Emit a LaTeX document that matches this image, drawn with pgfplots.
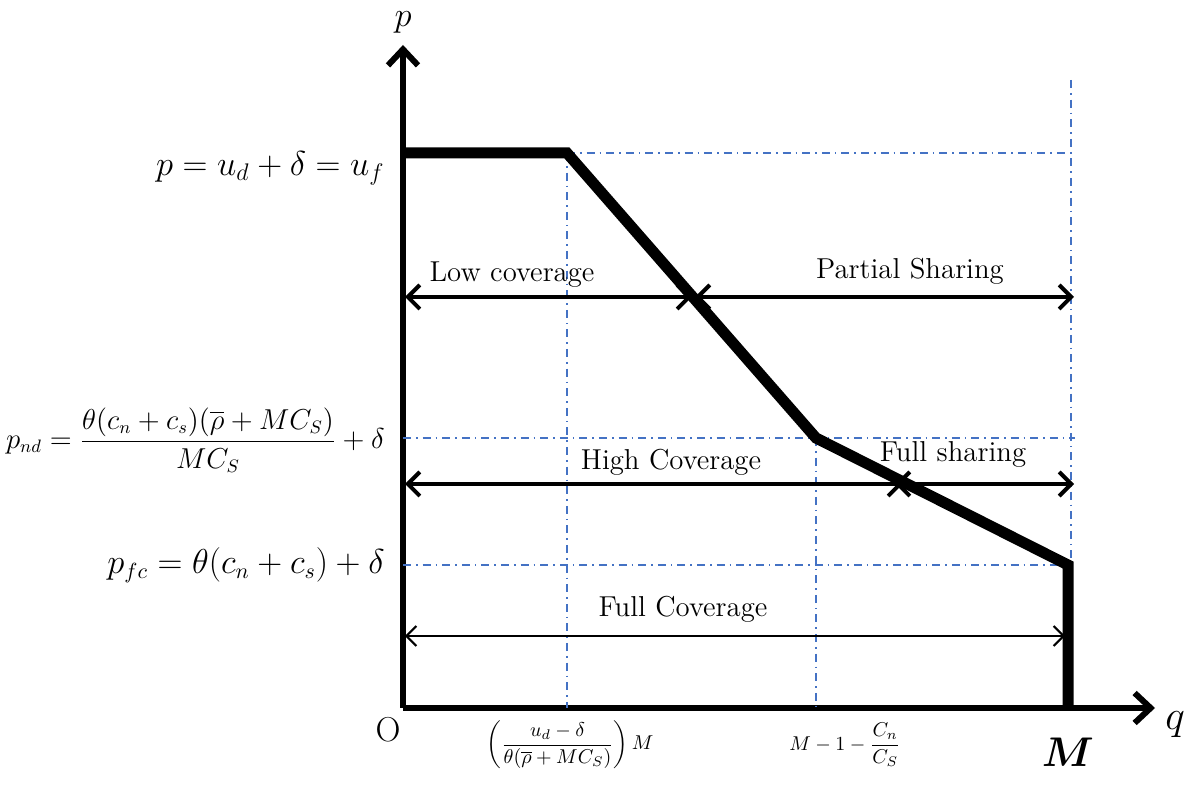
\documentclass[border=0pt]{standalone}
\usepackage{amsmath}
\usepackage{bm}
\usepackage{pgfplots}
\pgfplotsset{compat=1.18}
\usetikzlibrary{arrows.meta}
\definecolor{dblue}{RGB}{68,114,196}
\begin{document}
\begin{tikzpicture}[x=0.5pt,y=0.5pt]
\begin{axis}[
  scale only axis, width=376pt, height=331.5pt,
  xmin=0, xmax=752, ymin=0, ymax=663,
  axis lines*=left,
  axis line style={line width=3pt,-{Straight Barb[length=8pt,width=15pt,line width=3pt]}},
  xtick=\empty, ytick=\empty,
  clip=false,
]
\path (axis cs:-403,-82) rectangle (axis cs:794,708);
% dash-dot guide lines
\pgfplotsset{guide/.style={dblue, line width=0.8pt, dash pattern=on 4pt off 2.5pt on 0.8pt off 2.5pt}}
\addplot[guide] coordinates {(164,555) (672,555)};
\addplot[guide] coordinates {(164,555) (164,0)};
\addplot[guide] coordinates {(0,270) (672,270)};
\addplot[guide] coordinates {(413,270) (413,0)};
\addplot[guide] coordinates {(0,143) (665,143)};
\addplot[guide] coordinates {(668,628) (668,0)};
% main curve
\addplot[black, line width=5.5pt, line join=miter] coordinates {(0,555) (164,555) (413,270) (665,143) (665,0)};
% double arrows
\pgfplotsset{darr/.style={black, line width=2pt, {Straight Barb[length=6pt,width=12pt,line width=2pt]}-{Straight Barb[length=6pt,width=12pt,line width=2pt]}}}
\addplot[darr] coordinates {(2,411) (289,411)};
\addplot[darr] coordinates {(292,411) (671,411)};
\addplot[darr] coordinates {(2,224) (500,224)};
\addplot[darr] coordinates {(492,224) (671,224)};
\addplot[black, line width=1pt, {Straight Barb[length=5pt,width=10pt,line width=1pt]}-{Straight Barb[length=5pt,width=10pt,line width=1pt]}] coordinates {(2,72) (662,72)};
% region labels
\node at (axis cs:109,433) {\Large Low coverage};
\node at (axis cs:507,437) {\Large Partial Sharing};
\node at (axis cs:268,246) {\Large High Coverage};
\node at (axis cs:550,254) {\Large Full sharing};
\node at (axis cs:280,99) {\Large Full Coverage};
% axis labels
\node at (axis cs:-15,-22) {\LARGE O};
\node[inner sep=0pt] at (axis cs:772,-17) {\huge $q$};
\node[inner sep=0pt] at (axis cs:0,686) {\LARGE $p$};
\node[inner sep=0pt] at (axis cs:665,-44) {\huge $\bm{M}$};
% formula labels
\node[anchor=east, inner sep=0pt] at (axis cs:-18,540) {\LARGE $p = u_d + \delta = u_f$};
\node[anchor=east, inner sep=0pt] at (axis cs:-18,268) {\fontsize{13.5}{16}\selectfont $p_{nd} = \dfrac{\theta(c_n+c_s)(\overline{\rho}+MC_S)}{MC_S} + \delta$};
\node[anchor=east, inner sep=0pt] at (axis cs:-18,143) {\fontsize{16}{19}\selectfont $p_{fc} = \theta(c_n+c_s)+\delta$};
\node at (axis cs:167,-37) {$\left(\dfrac{u_d-\delta}{\theta(\overline{\rho}+MC_S)}\right)M$};
\node at (axis cs:442,-37) {$M-1-\dfrac{C_n}{C_S}$};
\end{axis}
\end{tikzpicture}
\end{document}
